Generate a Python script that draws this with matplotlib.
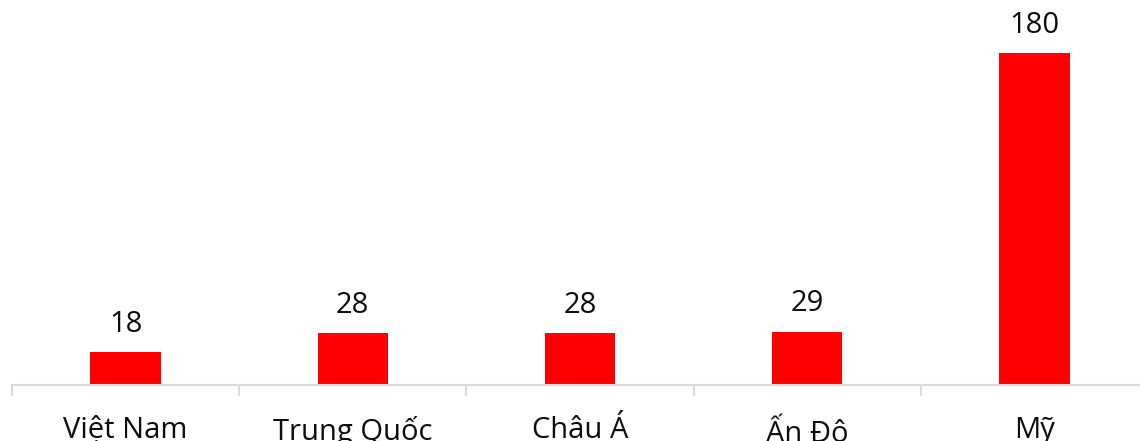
import matplotlib
matplotlib.use('Agg')
import matplotlib.pyplot as plt

plt.rcParams['font.family'] = ['Open Sans', 'DejaVu Sans']

regions = ['Việt Nam', 'Trung Quốc', 'Châu Á', 'Ấn Độ', 'Mỹ']
values = [18, 28, 28, 29, 180]

fig = plt.figure(figsize=(11.4, 4.41), dpi=100)
# axes run slightly past the right edge so the last divider tick is clipped
ax = fig.add_axes([12 / 1140, 56 / 441, 1136 / 1140, 385 / 441])

x = range(len(regions))
bars = ax.bar(x, values, width=0.31, color='#ff0000', zorder=2)

for rect, v in zip(bars, values):
    ax.annotate(str(v), (rect.get_x() + rect.get_width() / 2, v),
                xytext=(0, 9.5), textcoords='offset points',
                ha='center', va='bottom', fontsize=21, color='#0d0d0d')

ax.set_xlim(-0.5, len(regions) - 0.5)
ax.set_ylim(0, 209)

for side in ['top', 'right', 'left']:
    ax.spines[side].set_visible(False)
ax.spines['bottom'].set_color('#d9d9d9')
ax.spines['bottom'].set_linewidth(1.5)
ax.set_yticks([])

# divider ticks between categories, labels centred under bars
ax.set_xticks([i - 0.5 for i in range(len(regions) + 1)])
ax.set_xticklabels([])
ax.tick_params(axis='x', which='major', length=8, width=1.5, color='#d9d9d9')
ax.set_xticks(list(x), minor=True)
ax.set_xticklabels(regions, minor=True, fontsize=21, color='#0d0d0d')
ax.tick_params(axis='x', which='minor', length=0, pad=22)

fig.savefig('out.png', dpi=100)
